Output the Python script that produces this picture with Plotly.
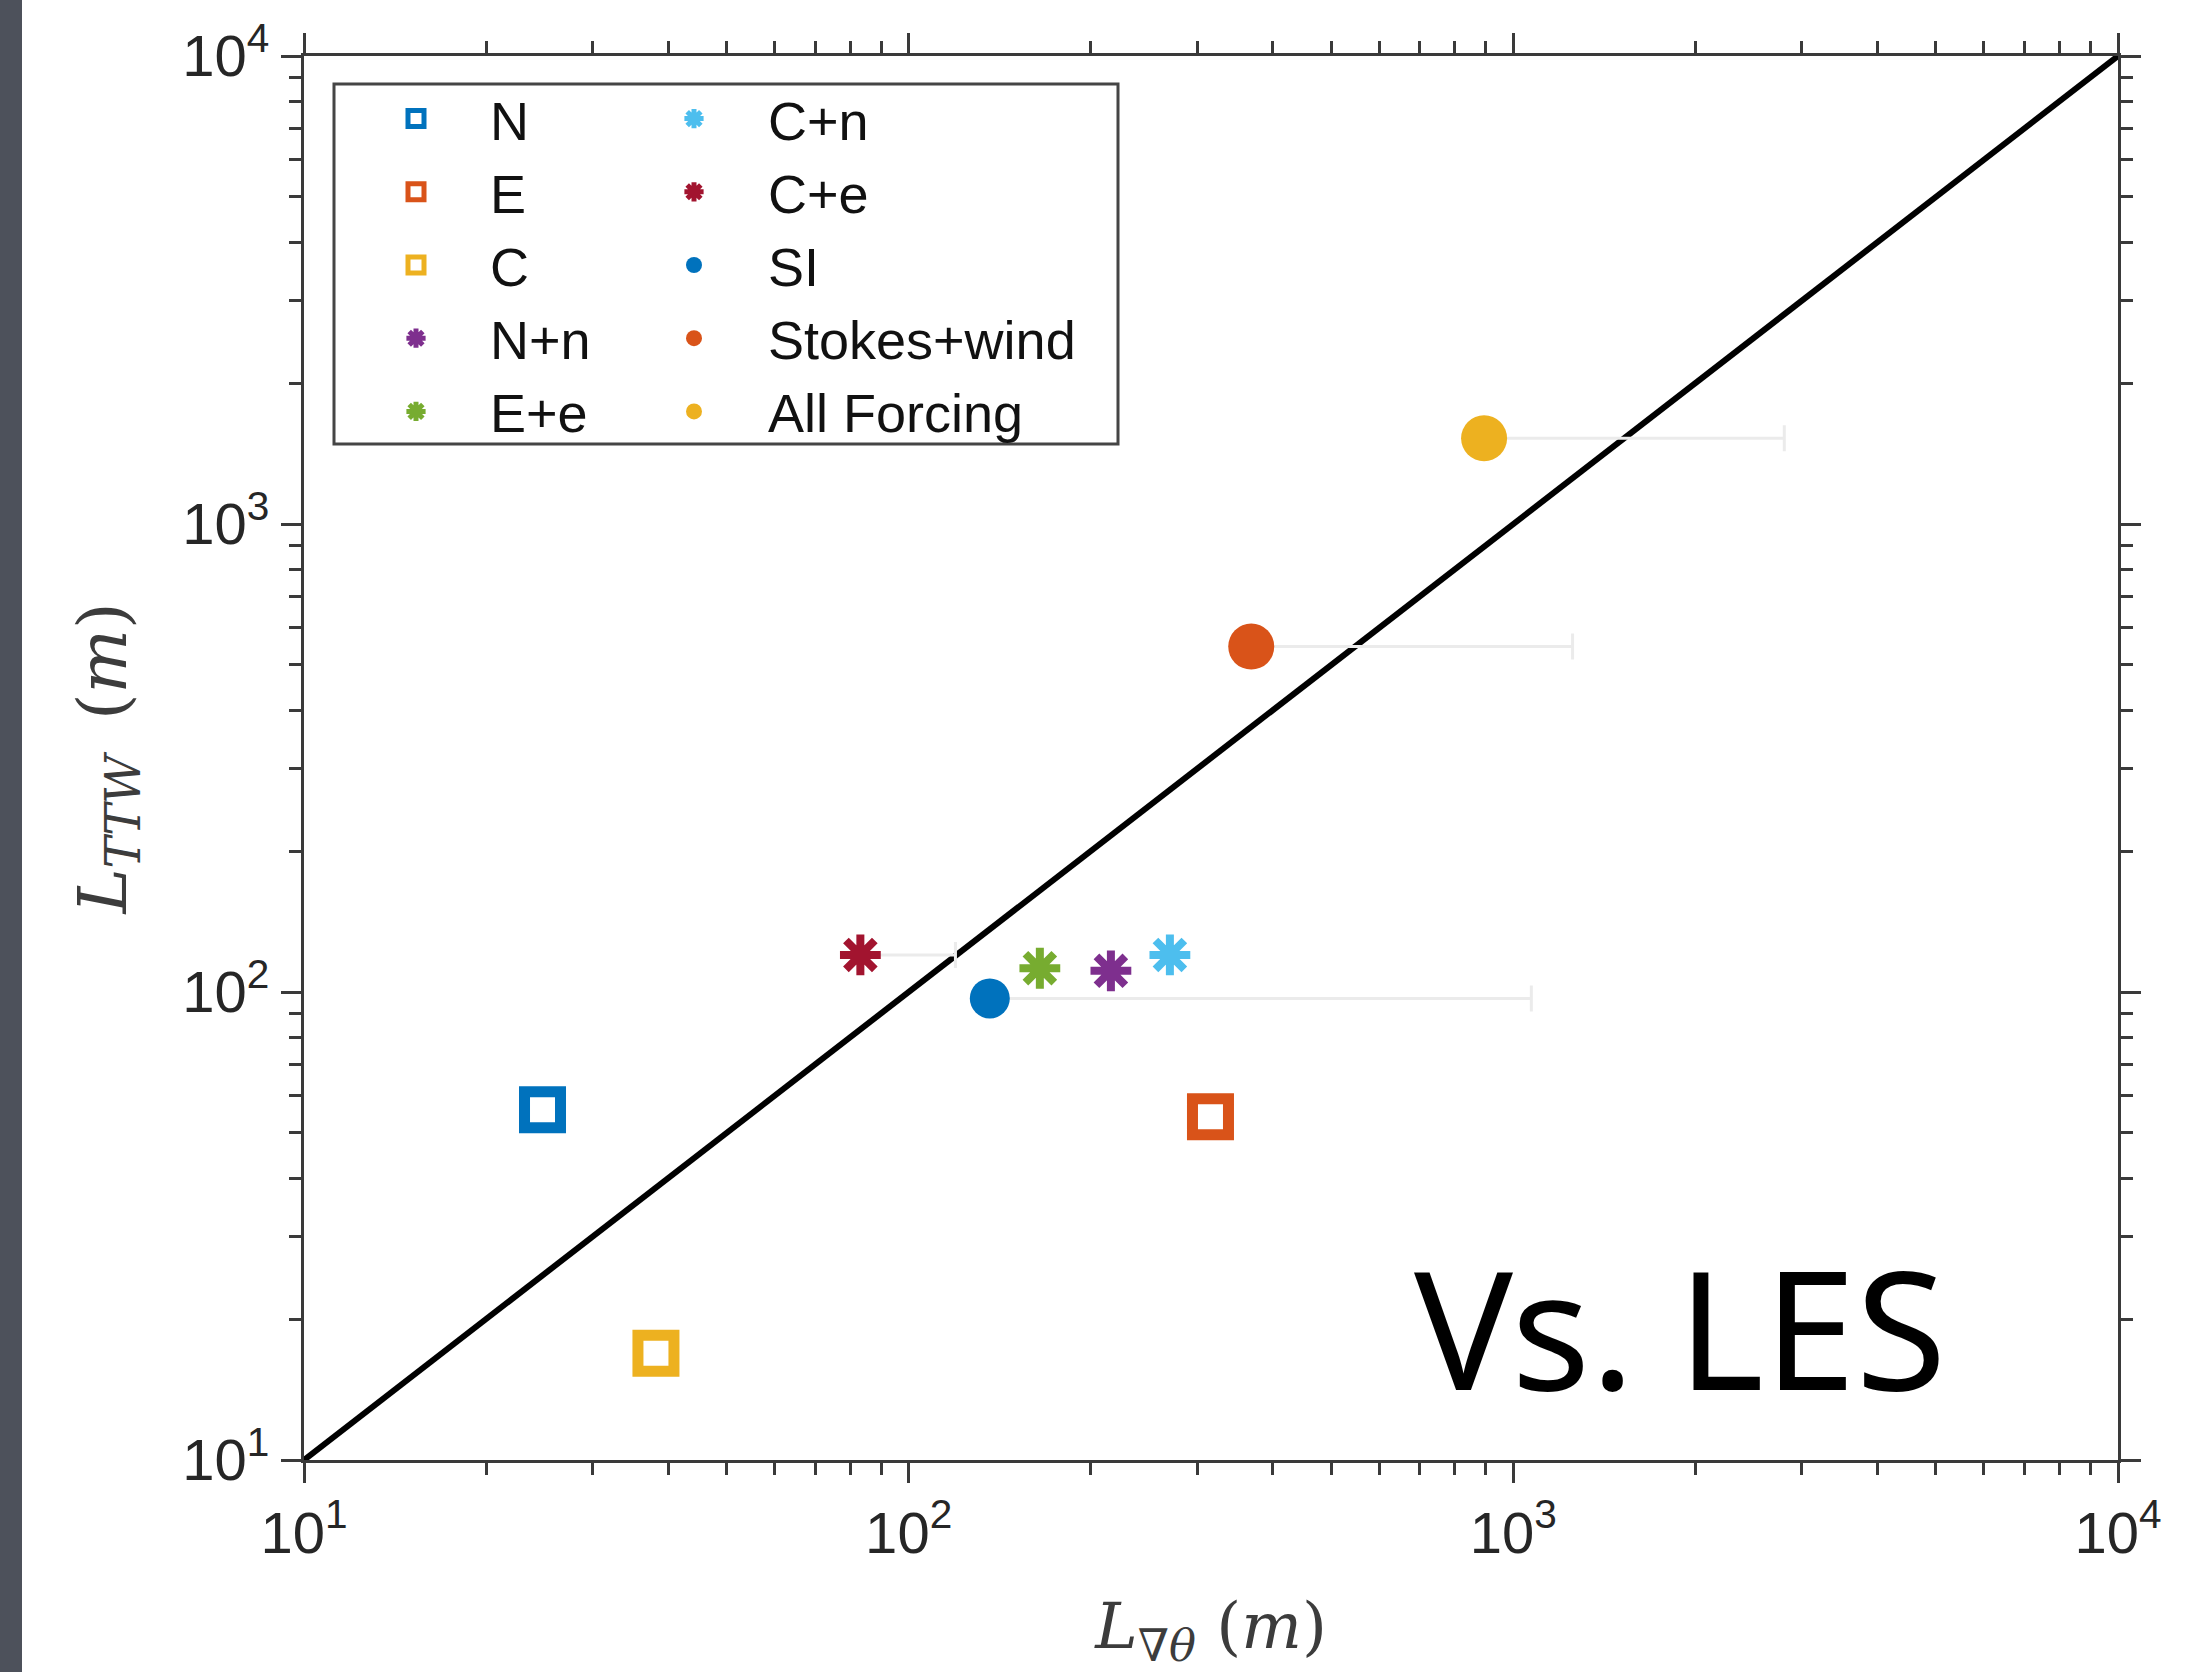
import plotly.graph_objects as go

# ---------------- data ----------------
labels = ["N", "E", "C", "N+n", "E+e", "C+n", "C+e", "SI", "Stokes+wind", "All Forcing"]
l_grad_theta = [24.8, 315.6, 38.2, 216.0, 164.8, 270.4, 83.2, 136.2, 368.6, 894.6]
l_ttw = [56.0, 54.1, 16.9, 111.0, 112.4, 120.0, 120.0, 96.9, 547.0, 1525.0]
# upper end of the horizontal error bars (None = no bar)
l_grad_theta_upper = [None, None, None, None, None, None, 119.5, 1071.0, 1253.0, 2806.0]
one_to_one = [10, 10000]
tick_vals = [10, 100, 1000, 10000]
tick_text = ["10<sup>1</sup>", "10<sup>2</sup>", "10<sup>3</sup>", "10<sup>4</sup>"]

colors = ["#0072BD", "#D95319", "#EDB120", "#7E2F8E", "#77AC30",
          "#4DBEEE", "#A2142F", "#0072BD", "#D95319", "#EDB120"]
kinds = ["sq", "sq", "sq", "ast", "ast", "ast", "ast", "dot", "dot", "dot"]
legend_of = ["legend", "legend", "legend", "legend", "legend",
             "legend2", "legend2", "legend2", "legend2", "legend2"]

# ---------------- geometry ----------------
W, H = 2203, 1672
L, R, T, B = 304, 2118, 56, 1460
PW, PH = R - L, B - T


def px(x):
    return (x - L) / PW


def py(y):
    return 1 - (y - T) / PH


fig = go.Figure()

# 1:1 line
fig.add_trace(go.Scatter(x=one_to_one, y=one_to_one, mode="lines",
                         line=dict(color="black", width=6), showlegend=False,
                         hoverinfo="skip"))

for i, name in enumerate(labels):
    k = kinds[i]
    if k == "sq":
        marker = dict(symbol="square-open", size=36, color=colors[i],
                      line=dict(color=colors[i], width=11))
    elif k == "ast":
        marker = dict(symbol="asterisk-open", size=34, color=colors[i],
                      line=dict(color=colors[i], width=8))
    else:
        marker = dict(symbol="circle", size=40 if name == "SI" else 46,
                      color=colors[i], line=dict(width=0))
    err = None
    if l_grad_theta_upper[i] is not None:
        err = dict(type="data", symmetric=False,
                   array=[l_grad_theta_upper[i] - l_grad_theta[i]],
                   arrayminus=[0], color="#ebebeb", thickness=3, width=13)
    fig.add_trace(go.Scatter(x=[l_grad_theta[i]], y=[l_ttw[i]], mode="markers",
                             name=name, marker=marker, error_x=err,
                             legend=legend_of[i]))

axis_common = dict(
    type="log", range=[1, 4], tickmode="array", tickvals=tick_vals, ticktext=tick_text,
    showline=True, linecolor="#3a3a3a", linewidth=3, mirror="allticks",
    ticks="outside", ticklen=20, tickwidth=3, tickcolor="#3a3a3a",
    showgrid=False, zeroline=False,
    tickfont=dict(family="Liberation Sans, Arial, sans-serif", size=58, color="#262626"),
    minor=dict(ticks="outside", ticklen=12, tickwidth=3, tickcolor="#3a3a3a",
               dtick="D1", showgrid=False),
)

title_font = dict(family="DejaVu Serif, serif", size=68, color="#3c3c3c")

fig.update_xaxes(**axis_common,
                 title=dict(text="<i>L</i><sub>∇<i>θ</i></sub> (<i>m</i>)",
                            font=dict(family="DejaVu Serif, serif", size=64, color="#3c3c3c"),
                            standoff=44))
fig.update_yaxes(**axis_common,
                 title=dict(text="<i>L</i><sub><i>TTW</i></sub> \u2009(<i>m</i>)",
                            font=title_font, standoff=34))

legend_common = dict(
    xanchor="left", yanchor="top", bgcolor="rgba(0,0,0,0)", borderwidth=0,
    font=dict(family="Liberation Sans, Arial, sans-serif", size=54, color="#111111"),
    itemwidth=138, tracegroupgap=0, orientation="v",
)

fig.update_layout(
    width=W, height=H,
    margin=dict(l=L, r=W - R, t=T, b=H - B),
    paper_bgcolor="white", plot_bgcolor="white",
    showlegend=True,
    legend=dict(x=px(342), y=py(77), **legend_common),
    legend2=dict(x=px(620), y=py(77), **legend_common),
    shapes=[
        dict(type="rect", xref="paper", yref="paper",
             x0=px(334), x1=px(1118), y0=py(444), y1=py(84),
             line=dict(color="#454545", width=3), fillcolor="rgba(0,0,0,0)"),
        dict(type="rect", xref="paper", yref="paper",
             x0=px(0), x1=px(22), y0=py(H), y1=py(0),
             line=dict(width=0), fillcolor="#4d515b"),
    ],
    annotations=[
        dict(text="Vs. LES", xref="paper", yref="paper", x=px(1680), y=py(1326),
             xanchor="center", yanchor="middle", showarrow=False,
             font=dict(family="Noto Sans, sans-serif", size=165, color="black")),
    ],
)

fig.write_html("out.html")
